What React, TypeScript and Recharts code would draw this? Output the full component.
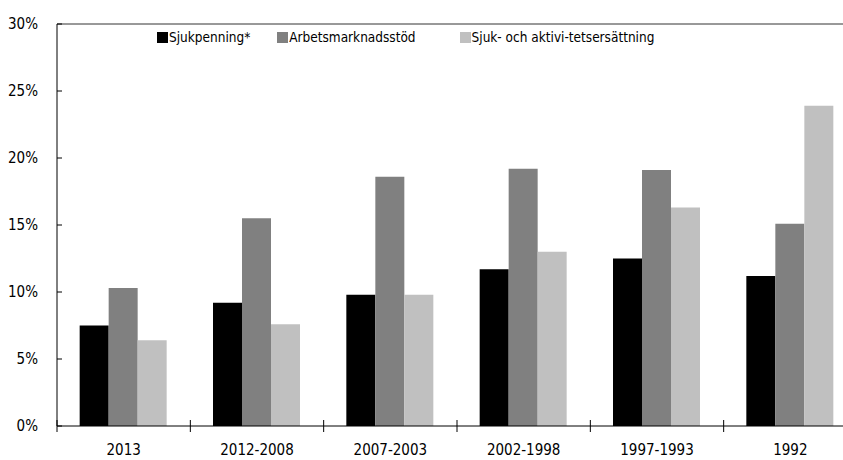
import { Bar, BarChart, Legend, ReferenceLine, XAxis, YAxis } from "recharts";

const categories = ["2013", "2012-2008", "2007-2003", "2002-1998", "1997-1993", "1992"];
const sjukpenning = [7.5, 9.2, 9.8, 11.7, 12.5, 11.2];
const arbetsmarknadsstod = [10.3, 15.5, 18.6, 19.2, 19.1, 15.1];
const sjukAktivitet = [6.4, 7.6, 9.8, 13.0, 16.3, 23.9];
const yTicks = [0, 5, 10, 15, 20, 25, 30];

const SERIES = [
  { key: "sjukpenning", name: "Sjukpenning*", color: "#000000" },
  { key: "arbetsmarknadsstod", name: "Arbetsmarknadsstöd", color: "#808080" },
  { key: "sjukAktivitet", name: "Sjuk- och aktivi-tetsersättning", color: "#c0c0c0" },
];

const FONT = "'DejaVu Sans', sans-serif";

const data = categories.map((name, i) => ({
  name,
  sjukpenning: sjukpenning[i],
  arbetsmarknadsstod: arbetsmarknadsstod[i],
  sjukAktivitet: sjukAktivitet[i],
}));

const XTick = (props: any) => {
  const { x, y, payload } = props;
  const left = x - (payload.offset || 0);
  return (
    <g>
      <line x1={left} x2={left} y1={y - 6} y2={y + 6} stroke="#000" />
      <text
        x={x}
        y={y + 29}
        textAnchor="middle"
        fill="#000"
        fontSize={15}
        fontFamily={FONT}
        style={{ fontStretch: "condensed" }}
      >
        {payload.value}
      </text>
    </g>
  );
};

const YTick = (props: any) => {
  const { x, y, payload } = props;
  return (
    <g>
      <line x1={x} x2={x + 5} y1={y} y2={y} stroke="#000" />
      <text
        x={x - 19}
        y={y}
        dy="0.3em"
        textAnchor="end"
        fill="#000"
        fontSize={15}
        fontFamily={FONT}
        style={{ fontStretch: "condensed" }}
      >
        {payload.value}%
      </text>
    </g>
  );
};

const LegendContent = () => (
  <div style={{ display: "flex", fontFamily: FONT, fontStretch: "condensed", fontSize: 13.5, color: "#000", whiteSpace: "nowrap" }}>
    {SERIES.map((s, i) => (
      <div key={s.key} style={{ display: "flex", alignItems: "center", marginRight: i === 0 ? 27 : 44 }}>
        <span style={{ display: "inline-block", width: 11, height: 11, background: s.color, marginRight: 1 }} />
        <span>{s.name}</span>
      </div>
    ))}
  </div>
);

export default function App() {
  return (
    <div style={{ position: "fixed", left: 0, top: 0, width: 843, height: 460, overflow: "hidden", background: "#fff" }}>
      <BarChart
        width={870}
        height={460}
        data={data}
        margin={{ top: 24, right: 13, left: 0, bottom: 4 }}
        barCategoryGap="17%"
        barGap={0}
      >
        <XAxis
          dataKey="name"
          axisLine={{ stroke: "#000" }}
          tickLine={false}
          tickSize={0}
          tickMargin={0}
          tick={<XTick />}
          interval={0}
          height={30}
        />
        <YAxis
          domain={[0, 30]}
          ticks={yTicks}
          axisLine={{ stroke: "#000" }}
          tickLine={false}
          tickSize={0}
          tickMargin={0}
          tick={<YTick />}
          width={57}
          interval={0}
        />
        <ReferenceLine y={30} stroke="#333" />
        <Legend
          verticalAlign="middle"
          align="center"
          content={<LegendContent />}
          wrapperStyle={{ top: 29, left: 157, width: "auto" }}
        />
        {SERIES.map((s) => (
          <Bar key={s.key} dataKey={s.key} name={s.name} fill={s.color} isAnimationActive={false} />
        ))}
      </BarChart>
    </div>
  );
}
